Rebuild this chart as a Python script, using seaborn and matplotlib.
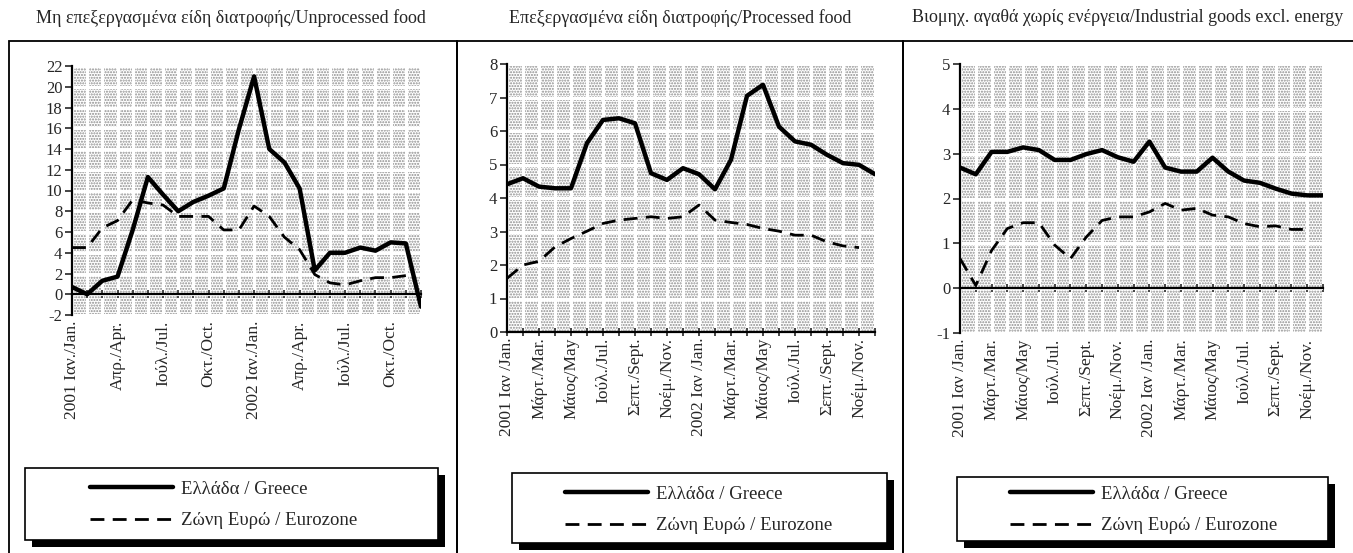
import numpy as np
import pandas as pd
import matplotlib.pyplot as plt
import seaborn as sns
from matplotlib.patches import Rectangle

# ==========================
# DATA
# ==========================

months = list(range(24))  # 2001 Jan .. 2002 Dec

unproc_greece = [0.7, 0.0, 1.3, 1.7, 6.2, 11.3, 9.6, 8.0, 8.9, 9.5, 10.2, 15.9,
                 21.0, 14.0, 12.7, 10.2, 2.3, 4.0, 4.0, 4.5, 4.2, 5.0, 4.9, -1.2]
unproc_euro = [4.5, 4.5, 6.4, 7.1, 9.1, 8.8, 8.6, 7.5, 7.5, 7.5, 6.2, 6.2,
               8.5, 7.5, 5.5, 4.3, 1.9, 1.1, 0.9, 1.3, 1.6, 1.6, 1.8, np.nan]

proc_greece = [4.41, 4.59, 4.34, 4.29, 4.29, 5.64, 6.33, 6.38, 6.23, 4.74, 4.54, 4.89,
               4.71, 4.26, 5.14, 7.05, 7.38, 6.13, 5.69, 5.59, 5.29, 5.04, 4.99, 4.71]
proc_euro = [1.6, 2.0, 2.11, 2.54, 2.79, 3.01, 3.24, 3.34, 3.39, 3.44, 3.39, 3.44,
             3.79, 3.34, 3.27, 3.21, 3.09, 3.01, 2.89, 2.89, 2.69, 2.57, 2.52, np.nan]

ind_greece = [2.69, 2.54, 3.04, 3.04, 3.14, 3.08, 2.86, 2.86, 2.99, 3.08, 2.92, 2.82,
              3.27, 2.69, 2.60, 2.60, 2.91, 2.60, 2.40, 2.35, 2.22, 2.11, 2.07, 2.07]
ind_euro = [0.66, 0.06, 0.84, 1.33, 1.46, 1.46, 0.96, 0.66, 1.14, 1.51, 1.59, 1.59,
            1.70, 1.89, 1.74, 1.78, 1.63, 1.59, 1.44, 1.37, 1.39, 1.31, 1.31, np.nan]

labels_quarter = ["2001 Ιαν./Jan.", "Απρ./Apr.", "Ιούλ./Jul.", "Οκτ./Oct.",
                  "2002 Ιαν./Jan.", "Απρ./Apr.", "Ιούλ./Jul.", "Οκτ./Oct."]
labels_bimonth = ["2001 Ιαν /Jan.", "Μάρτ./Mar.", "Μάιος/May", "Ιούλ./Jul.",
                  "Σεπτ./Sept.", "Νοέμ./Nov.", "2002 Ιαν /Jan.", "Μάρτ./Mar.",
                  "Μάιος/May", "Ιούλ./Jul.", "Σεπτ./Sept.", "Νοέμ./Nov."]

titles = ["Μη επεξεργασμένα είδη διατροφής/Unprocessed food",
          "Επεξεργασμένα είδη διατροφής/Processed food",
          "Βιομηχ. αγαθά χωρίς ενέργεια/Industrial goods excl. energy"]

name_gr = "Ελλάδα / Greece"
name_ez = "Ζώνη Ευρώ / Eurozone"

# ==========================
# STYLE
# ==========================

sns.set_style("white")
plt.rcParams['font.family'] = ['Liberation Serif', 'DejaVu Serif']
plt.rcParams['axes.unicode_minus'] = False
plt.rcParams['hatch.linewidth'] = 1.0

FS = 12.5
W, H = 1353, 553
fig = plt.figure(figsize=(W / 100, H / 100), dpi=100)


def fx(px):
    return px / W


def fy(py):
    return 1 - py / H


def panel(rect, greece, euro, ylim, yticks, labels, step):
    ax = fig.add_axes(rect)
    ax.set_facecolor("white")
    # stippled plot area
    ax.add_patch(Rectangle((0, 0), 1, 1, transform=ax.transAxes, facecolor="white",
                           edgecolor="#8c8c8c", hatch="......", lw=0, zorder=0.1))

    sns.lineplot(x=months, y=greece, color="black", lw=3.2, label=name_gr, ax=ax,
                 legend=False)
    sns.lineplot(x=months, y=euro, color="black", lw=2.0, label=name_ez, ax=ax,
                 legend=False)
    ax.lines[1].set_dashes((5, 3))

    ax.set_xlim(0, 23)
    ax.set_ylim(*ylim)
    ax.set_yticks(yticks)
    ax.set_xticks(months)
    ax.set_axisbelow(True)
    ax.grid(True, color="white", lw=2.2, zorder=0.5)

    for s in ["top", "right"]:
        ax.spines[s].set_visible(False)
    ax.spines["left"].set_color("black")
    ax.spines["left"].set_linewidth(1.6)
    ax.spines["bottom"].set_position(("data", 0))
    ax.spines["bottom"].set_color("black")
    ax.spines["bottom"].set_linewidth(1.6)
    ax.tick_params(axis="x", direction="inout", length=6, width=1.2,
                   labelbottom=False, bottom=True)
    ax.tick_params(axis="y", direction="out", length=5, width=1.2,
                   labelsize=12, left=True, pad=2)
    ax.set_xlabel("")
    ax.set_ylabel("")

    sec = ax.secondary_xaxis("bottom")
    sec.set_xticks(months[::step], labels)
    sec.tick_params(length=0, labelsize=FS, rotation=90, pad=4)
    sec.spines["bottom"].set_visible(False)
    return ax


def legend_box(ax, box, anchor):
    x0, y0, x1, y1 = box
    # shadow + frame
    fig.add_artist(Rectangle((fx(x0 + 7), fy(y1 + 7)), fx(x1) - fx(x0), fy(y0) - fy(y1),
                             transform=fig.transFigure, facecolor="black",
                             edgecolor="black", lw=0, zorder=2))
    fig.add_artist(Rectangle((fx(x0), fy(y1)), fx(x1) - fx(x0), fy(y0) - fy(y1),
                             transform=fig.transFigure, facecolor="white",
                             edgecolor="black", lw=1.2, zorder=3))
    h, l = ax.get_legend_handles_labels()
    fig.legend(h, l, loc="center left", bbox_to_anchor=(fx(anchor[0]), fy(anchor[1])),
               frameon=False, fontsize=13.5, handlelength=4.45, handletextpad=0.4,
               labelspacing=0.75, borderpad=0, borderaxespad=0).set_zorder(5)


# ==========================
# FRAMES + TITLES
# ==========================

frames = [(9, 457), (457, 903), (903, 1360)]
for x0, x1 in frames:
    fig.add_artist(Rectangle((fx(x0), -0.05), fx(x1) - fx(x0), fy(41) + 0.05,
                             transform=fig.transFigure, fill=False,
                             edgecolor="black", lw=1.3))

title_x = [231, 680, 1128]
for t, xc in zip(titles, title_x):
    fig.text(fx(xc), fy(18), t, ha="center", va="center", fontsize=13)

# ==========================
# PANELS
# ==========================

ax1 = panel([fx(72), fy(315), fx(421) - fx(72), fy(66) - fy(315)],
            unproc_greece, unproc_euro, (-2, 22), range(-2, 23, 2), labels_quarter, 3)
legend_box(ax1, (25, 468, 438, 540), (90, 505))

ax2 = panel([fx(507), fy(332), fx(875) - fx(507), fy(64) - fy(332)],
            proc_greece, proc_euro, (0, 8), range(0, 9), labels_bimonth, 2)
legend_box(ax2, (512, 473, 887, 543), (565, 510))

ax3 = panel([fx(960), fy(333), fx(1323) - fx(960), fy(64) - fy(333)],
            ind_greece, ind_euro, (-1, 5), range(-1, 6), labels_bimonth, 2)
legend_box(ax3, (957, 477, 1328, 541), (1010, 510))

plt.savefig("out.png", dpi=100)
plt.close()
